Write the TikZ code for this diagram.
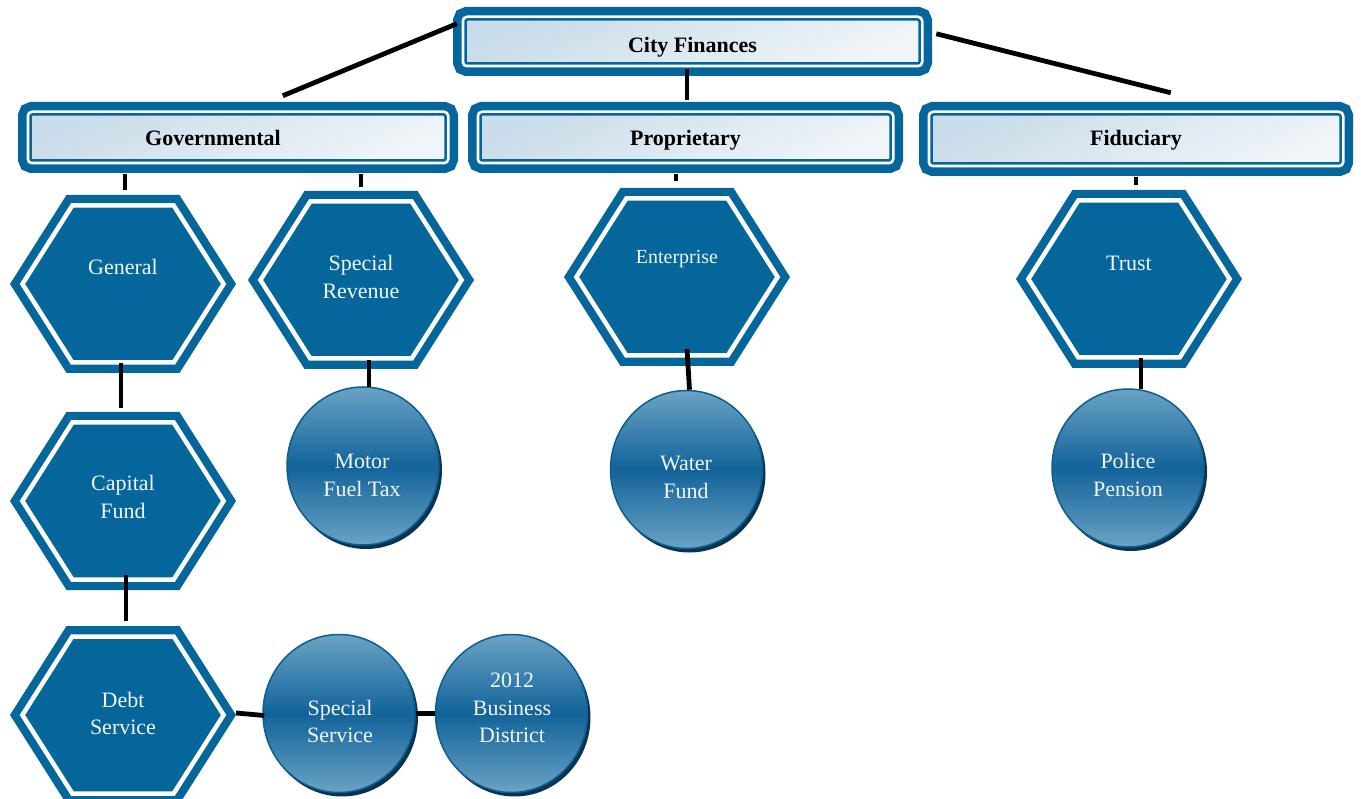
\documentclass[tikz,border=0pt]{standalone}
\usepackage{fontspec}
\setmainfont{Liberation Serif}
\usetikzlibrary{shapes.geometric,shadows,calc}
\definecolor{hexblue}{HTML}{05669B}
\definecolor{boxA}{HTML}{C9DCE9}
\definecolor{boxB}{HTML}{F0F5F9}
\definecolor{circlight}{HTML}{6AA3C4}
\definecolor{circdark}{HTML}{12639A}
\definecolor{circline}{HTML}{0B5E90}
\definecolor{circshadow}{HTML}{0A3352}
\definecolor{txtwhite}{HTML}{F2F6FA}
\newcommand\hexa[3]{%
  \begin{scope}[shift={(#2,#3)}]
    \fill[hexblue] (-113,0) -- (-56.5,-89) -- (56.5,-89) -- (113,0) -- (56.5,89) -- (-56.5,89) -- cycle;
    \draw[white, line width=4.5pt, line join=miter] (-100.6,0) -- (-50.7,-78.5) -- (50.7,-78.5) -- (100.6,0) -- (50.7,78.5) -- (-50.7,78.5) -- cycle;
    \coordinate (#1-t) at (0,-89);
    \coordinate (#1-b) at (0,89);
    \coordinate (#1-r) at (113,0);
  \end{scope}}
\begin{document}
\begin{tikzpicture}[x=1pt,y=-1pt,
  conn/.style={line width=4.8pt, black},
  catbox/.style={rectangle, rounded corners=2pt, inner sep=0pt, text depth=0pt,
    font=\fontsize{22}{26}\selectfont\bfseries,
    preaction={draw=hexblue, line width=25pt},
    preaction={draw=white, line width=8pt},
    top color=boxA, bottom color=boxB, shading angle=25,
    draw=hexblue, line width=2.5pt},
  circ/.style={ellipse, inner sep=0pt, minimum width=152pt, minimum height=158pt,
    draw=circline, line width=1.5pt,
    top color=circlight, bottom color=circlight, middle color=circdark,
    general shadow={fill=circshadow, shadow xshift=3pt, shadow yshift=-4pt}},
  hextext/.style={text=txtwhite, align=center, anchor=base, inner sep=0pt,
    font=\fontsize{22}{27.7}\selectfont}
]
\useasboundingbox (0,0) rectangle (1361,799);
\clip (0,0) rectangle (1361,799);

% category boxes
\node[catbox, minimum width=454pt, minimum height=44pt, text height=22.4pt] (city) at (692.5,41.5) {City Finances};
\node[catbox, minimum width=415pt, minimum height=46pt, text height=17pt] (gov) at (238,137.5) {\hspace*{-50pt}Governmental};
\node[catbox, minimum width=410pt, minimum height=46pt, text height=17pt] (prop) at (685.5,137.5) {Proprietary};
\node[catbox, minimum width=409pt, minimum height=49pt, text height=14pt] (fid) at (1136,139) {Fiduciary};

% hexagons
\hexa{gen}{123}{284}
\hexa{srev}{361}{280}
\hexa{ent}{677}{277}
\hexa{trust}{1129}{279}
\hexa{cap}{123}{501}
\hexa{debt}{123}{715}

% circles
\node[circ] (motor) at (363,466) {};
\node[circ] (water) at (686.5,469.5) {};
\node[circ] (police) at (1128,468) {};
\node[circ] (sserv) at (339,713.5) {};
\node[circ] (bdist) at (511.5,713.5) {};

% connectors
\draw[conn] ($(city.north west)+(-7.5,5.5)$) -- ($(gov.north west)+(253.5,-17.5)$);
\draw[conn] ($(city.south)+(-5.5,4.5)$) -- ($(prop.north)+(1.5,-13.5)$);
\draw[conn] ($(city.north east)+(15.5,15.5)$) -- ($(fid.north west)+(240.5,-20.5)$);
\draw[conn] ($(gen-t |- gov.south)+(2,12.5)$) -- ($(gen-t)+(2,-5)$);
\draw[conn] ($(srev-t |- gov.south)+(0,12.5)$) -- ($(srev-t)+(0,-4)$);
\draw[conn] ($(ent-t |- prop.south)+(-1,12.5)$) -- ($(ent-t)+(-1,-7)$);
\draw[conn] ($(trust-t |- fid.south)+(7,12.5)$) -- ($(trust-t)+(7,-5)$);
\draw[conn] ($(gen-b)+(-2,-10)$) -- ($(cap-t)+(-2,-4)$);
\draw[conn] ($(cap-b)+(3,-15)$) -- ($(debt-t)+(3,-5)$);
\draw[conn] ($(srev-b)+(8,-9)$) -- ($(motor.north)+(6,1)$);
\draw[conn] ($(ent-b)+(10,-17)$) -- ($(water.north)+(3,0)$);
\draw[conn] ($(trust-b)+(12,-10)$) -- ($(police.north)+(13,1)$);
\draw[conn] ($(debt-r)+(0,-2)$) -- ($(sserv.west)+(2,2)$);
\draw[conn] (sserv.east) -- (bdist.west);

% labels (anchor base = baseline of the last line)
\node[hextext] (gen-l) at (123,275) {General};
\node[hextext] (srev-l) at (361,298.7) {Special\\Revenue};
\node[hextext, font=\fontsize{20}{24}\selectfont] (ent-l) at (677,264) {Enterprise};
\node[hextext] (trust-l) at (1129,271) {Trust};
\node[hextext] (cap-l) at (123,518.7) {Capital\\Fund};
\node[hextext] (debt-l) at (123,734.7) {Debt\\Service};
\node[hextext] (motor-l) at (362,496.7) {Motor\\Fuel Tax};
\node[hextext] (water-l) at (686,498.7) {Water\\Fund};
\node[hextext] (police-l) at (1128,496.7) {Police\\Pension};
\node[hextext] (sserv-l) at (340,742.7) {Special\\Service};
\node[hextext] (bdist-l) at (512,742.7) {2012\\Business\\District};
\end{tikzpicture}
\end{document}
